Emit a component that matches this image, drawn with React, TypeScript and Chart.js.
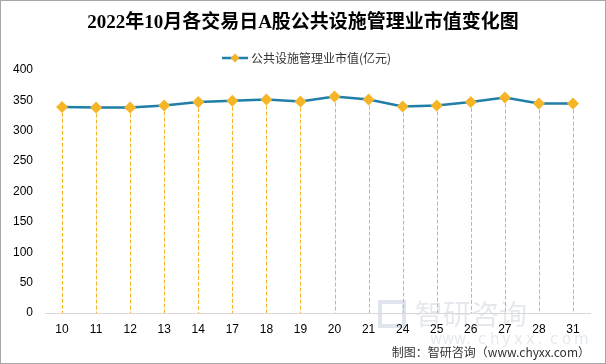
import React, { useEffect, useRef } from "react";
import { Chart, registerables } from "chart.js";

Chart.register(...registerables);

const TITLE = "2022年10月各交易日A股公共设施管理业市值变化图";
const SERIES_NAME = "公共设施管理业市值(亿元)";
const SOURCE = "制图：智研咨询（www.chyxx.com）";
const categories = ["10", "11", "12", "13", "14", "17", "18", "19", "20", "21", "24", "25", "26", "27", "28", "31"];
const values = [339.3, 338.2, 338.2, 341.5, 347.5, 349.2, 351.3, 348.0, 356.2, 351.3, 339.8, 341.5, 347.5, 354.6, 344.8, 344.8];
const yTicks = [0, 50, 100, 150, 200, 250, 300, 350, 400];

const LINE = "#1f7fa8";
const MARK = "#f5b526";

const decorPlugin = {
  id: "decor",
  beforeDraw(chart: any) {
    const { ctx, width, height } = chart;
    ctx.save();
    ctx.fillStyle = "#ffffff";
    ctx.fillRect(0, 0, width, height);
    // watermark
    ctx.fillStyle = "rgba(170,180,195,0.3)";
    ctx.font = "28px 'Noto Sans CJK SC'";
    ctx.textBaseline = "middle";
    ctx.textAlign = "left";
    ctx.fillText("智研咨询", 415, 314);
    ctx.font = "15px 'DejaVu Sans'";
    const wm = "www.chyxx.com";
    let x = 430;
    for (const ch of wm) {
      ctx.fillText(ch, x, 340);
      x += 12;
    }
    ctx.strokeStyle = "rgba(150,165,195,0.3)";
    ctx.lineWidth = 4;
    ctx.strokeRect(380, 302, 24, 24);
    ctx.restore();
  },
  afterDraw(chart: any) {
    const { ctx, width, height } = chart;
    ctx.save();
    // title
    ctx.fillStyle = "#000";
    ctx.font = "bold 19px 'Liberation Serif', 'Noto Sans CJK SC'";
    ctx.textAlign = "center";
    ctx.textBaseline = "middle";
    ctx.fillText(TITLE, 303, 23);
    // legend
    ctx.strokeStyle = LINE;
    ctx.lineWidth = 2.5;
    ctx.beginPath();
    ctx.moveTo(222, 58);
    ctx.lineTo(248, 58);
    ctx.stroke();
    ctx.fillStyle = MARK;
    ctx.beginPath();
    ctx.moveTo(235, 53.5);
    ctx.lineTo(239.5, 58);
    ctx.lineTo(235, 62.5);
    ctx.lineTo(230.5, 58);
    ctx.closePath();
    ctx.fill();
    ctx.fillStyle = "#333";
    ctx.font = "12px 'Noto Sans CJK SC'";
    ctx.textAlign = "left";
    ctx.fillText(SERIES_NAME, 251, 58);
    // source
    ctx.fillStyle = "#333";
    ctx.font = "12px 'Noto Sans CJK SC'";
    ctx.textAlign = "right";
    ctx.fillText(SOURCE, 590, 352);
    // border
    ctx.strokeStyle = "#a6a6a6";
    ctx.lineWidth = 1;
    ctx.strokeRect(0.5, 0.5, width - 1, height - 1);
    ctx.restore();
  },
};

const dropPlugin = {
  id: "droplines",
  beforeDatasetsDraw(chart: any) {
    const { ctx } = chart;
    const meta = chart.getDatasetMeta(0);
    const yScale = chart.scales.y;
    const y0 = yScale.getPixelForValue(0);
    ctx.save();
    ctx.strokeStyle = MARK;
    ctx.lineWidth = 1;
    ctx.setLineDash([4, 2]);
    meta.data.forEach((pt: any) => {
      const x = Math.round(pt.x) + 0.5;
      ctx.beginPath();
      ctx.moveTo(x, pt.y);
      ctx.lineTo(x, y0);
      ctx.stroke();
    });
    ctx.restore();
  },
};

export default function App() {
  const ref = useRef<HTMLCanvasElement>(null);
  useEffect(() => {
    if (!ref.current) return;
    const chart = new Chart(ref.current, {
      type: "line",
      data: {
        labels: categories,
        datasets: [
          {
            label: SERIES_NAME,
            data: values,
            borderColor: LINE,
            borderWidth: 2.5,
            pointStyle: "rectRot",
            pointRadius: 6,
            pointBackgroundColor: MARK,
            pointBorderColor: MARK,
            pointBorderWidth: 0,
            tension: 0,
          },
        ],
      },
      options: {
        animation: false,
        responsive: false,
        layout: { padding: { left: 0, right: 16, top: 70, bottom: 0 } },
        plugins: { legend: { display: false }, title: { display: false }, tooltip: { enabled: false } },
        scales: {
          x: {
            offset: true,
            grid: { display: false, drawTicks: false, offset: true },
            border: { display: true, color: "#d9d9d9", width: 1 },
            ticks: { color: "#000", font: { size: 12, family: "'Liberation Sans', 'DejaVu Sans'" }, padding: 9, maxRotation: 0, autoSkip: false },
            afterFit: (s: any) => { s.height = 51; },
          },
          y: {
            min: 0,
            max: 400,
            afterBuildTicks: (s: any) => { s.ticks = yTicks.map((v) => ({ value: v })); },
            grid: { display: false, drawTicks: false },
            border: { display: false },
            ticks: { color: "#000", font: { size: 12, family: "'Liberation Sans', 'DejaVu Sans'" }, padding: 12 },
            afterFit: (s: any) => { s.width = 45; },
          },
        },
      },
      plugins: [decorPlugin, dropPlugin],
    });
    return () => chart.destroy();
  }, []);
  return (
    <div style={{ position: "absolute", left: 0, top: 0, width: 606, height: 364 }}>
      <canvas ref={ref} width={606} height={364} style={{ width: 606, height: 364, display: "block" }} />
    </div>
  );
}
